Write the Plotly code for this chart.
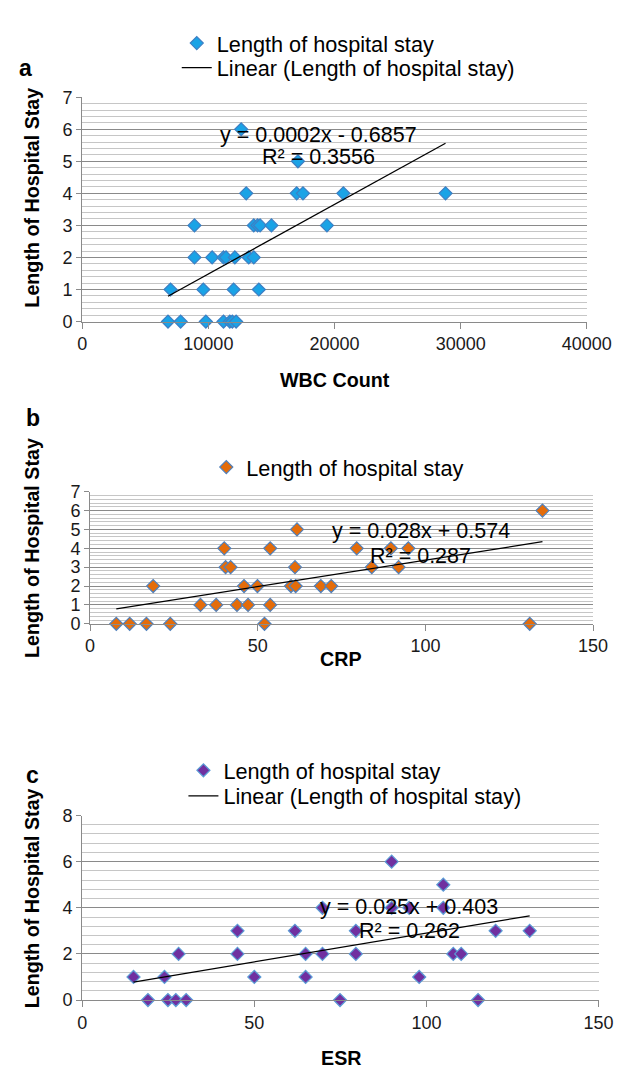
import plotly.graph_objects as go

W, H = 626, 1072
FONT = "Liberation Sans, Arial, sans-serif"

# ---------------- data ----------------
# Panel a: WBC count vs length of hospital stay
wbc_x = [6800, 7800, 9800, 11200, 11700, 11900, 12200,
         7000, 9600, 12000, 14000,
         8900, 10300, 11200, 11400, 12100, 13200, 13600,
         8900, 13600, 13900, 14100, 15000, 19400,
         13000, 17000, 17500, 20700, 28800,
         17100,
         12600]
wbc_y = [0, 0, 0, 0, 0, 0, 0,
         1, 1, 1, 1,
         2, 2, 2, 2, 2, 2, 2,
         3, 3, 3, 3, 3, 3,
         4, 4, 4, 4, 4,
         5,
         6]
wbc_trend = {"slope": 0.000217, "intercept": -0.6857}
wbc_eq = ["y = 0.0002x - 0.6857", "R² = 0.3556"]
wbc_xticks = [0, 10000, 20000, 30000, 40000]
wbc_yticks = [0, 1, 2, 3, 4, 5, 6, 7]

# Panel b: CRP vs length of hospital stay
crp_x = [7.8, 11.8, 16.8, 23.9, 52.0, 131.1,
         32.9, 37.6, 43.8, 47.1, 53.7,
         18.8, 45.9, 49.9, 59.9, 61.3, 68.8, 71.9,
         40.4, 41.9, 61.1, 84.0, 92.0,
         40.0, 53.7, 79.5, 89.7, 94.9,
         61.7,
         134.9]
crp_y = [0, 0, 0, 0, 0, 0,
         1, 1, 1, 1, 1,
         2, 2, 2, 2, 2, 2, 2,
         3, 3, 3, 3, 3,
         4, 4, 4, 4, 4,
         5,
         6]
crp_trend = {"slope": 0.028, "intercept": 0.574}
crp_eq = ["y = 0.028x + 0.574", "R² = 0.287"]
crp_xticks = [0, 50, 100, 150]
crp_yticks = [0, 1, 2, 3, 4, 5, 6, 7]

# Panel c: ESR vs length of hospital stay
esr_x = [19.1, 24.9, 27.2, 30.2, 74.9, 115.0,
         14.9, 23.9, 50.0, 64.9, 97.9,
         28.0, 45.1, 64.9, 69.8, 79.5, 107.8, 110.1,
         45.1, 61.8, 79.5, 120.1, 130.0,
         69.8, 89.9, 95.0, 104.9,
         104.9,
         89.9]
esr_y = [0, 0, 0, 0, 0, 0,
         1, 1, 1, 1, 1,
         2, 2, 2, 2, 2, 2, 2,
         3, 3, 3, 3, 3,
         4, 4, 4, 4,
         5,
         6]
esr_trend = {"slope": 0.025, "intercept": 0.403}
esr_eq = ["y = 0.025x + 0.403", "R² = 0.262"]
esr_xticks = [0, 50, 100, 150]
esr_yticks = [0, 2, 4, 6, 8]

series_name = "Length of hospital stay"
trend_name = "Linear (Length of hospital stay)"
y_title = "Length of Hospital Stay"

# ---------------- helpers ----------------
def fx(px):
    return px / W

def fy(py):
    return 1 - py / H

def trend_xy(xs, t):
    x0, x1 = min(xs), max(xs)
    return [x0, x1], [t["slope"] * x0 + t["intercept"], t["slope"] * x1 + t["intercept"]]

fig = go.Figure()

panels = [
    dict(ax="", x=wbc_x, y=wbc_y, t=wbc_trend, fill="#1aa3e6", edge="#3d7fc4",
         leg_pts="legend", leg_line="legend2"),
    dict(ax="2", x=crp_x, y=crp_y, t=crp_trend, fill="#e46c0a", edge="#4f81bd",
         leg_pts="legend3", leg_line=None),
    dict(ax="3", x=esr_x, y=esr_y, t=esr_trend, fill="#7030a0", edge="#5b9bd5",
         leg_pts="legend4", leg_line="legend5"),
]

for p in panels:
    xa, ya = "x" + p["ax"], "y" + p["ax"]
    fig.add_trace(go.Scatter(
        x=p["x"], y=p["y"], mode="markers", name=series_name,
        xaxis=xa, yaxis=ya, legend=p["leg_pts"],
        marker=dict(symbol="diamond", size=10, color=p["fill"],
                    line=dict(color=p["edge"], width=1.2)),
        cliponaxis=False,
    ))
    tx, ty = trend_xy(p["x"], p["t"])
    fig.add_trace(go.Scatter(
        x=tx, y=ty, mode="lines", name=trend_name,
        xaxis=xa, yaxis=ya,
        legend=p["leg_line"] if p["leg_line"] else "legend",
        showlegend=p["leg_line"] is not None,
        line=dict(color="black", width=1.3),
    ))

MAJOR = "#8a8a8a"
MINOR = "#c6c6c6"
tickfont = dict(family=FONT, size=18, color="#1a1a1a")

def xaxis(dom, rng, ticks, anchor):
    return dict(domain=dom, range=rng, tickvals=ticks, ticktext=[str(t) for t in ticks],
                showgrid=False, zeroline=False, showline=True, linecolor=MAJOR, linewidth=1,
                ticks="outside", ticklen=6, tickcolor=MAJOR, tickfont=tickfont,
                anchor=anchor, fixedrange=True)

def yaxis(dom, rng, ticks, minor_dt, anchor):
    return dict(domain=dom, range=rng, tickvals=ticks, ticktext=[str(t) for t in ticks],
                showgrid=True, gridcolor=MAJOR, gridwidth=1, zeroline=False,
                showline=True, linecolor=MAJOR, linewidth=1,
                ticks="outside", ticklen=5, tickcolor=MAJOR, tickfont=tickfont,
                minor=dict(dtick=minor_dt, tick0=0, showgrid=True, gridcolor=MINOR,
                           gridwidth=1, ticks=""),
                anchor=anchor, fixedrange=True)

LEG = 21.7

def legend_at(text_left, cy, size=LEG):
    return dict(x=fx(text_left - 40), y=fy(cy), xanchor="left", yanchor="middle",
                font=dict(family=FONT, size=size, color="black"),
                bgcolor="rgba(0,0,0,0)", borderwidth=0, itemwidth=30)

fig.update_layout(
    width=W, height=H, margin=dict(l=0, r=0, t=0, b=0),
    paper_bgcolor="white", plot_bgcolor="white",
    font=dict(family=FONT, color="black"),
    xaxis=xaxis([fx(72.7), fx(602.7)], [0, 40000], wbc_xticks, "y"),
    yaxis=yaxis([fy(309.3), fy(80.7)], [0, 7], wbc_yticks, 0.2, "x"),
    xaxis2=xaxis([fx(81), fx(609.3)], [0, 150], crp_xticks, "y2"),
    yaxis2=yaxis([fy(617.3), fy(482.7)], [0, 7], crp_yticks, 0.2, "x2"),
    xaxis3=xaxis([fx(72.7), fx(615)], [0, 150], esr_xticks, "y3"),
    yaxis3=yaxis([fy(1000.7), fy(812.7)], [0, 8], esr_yticks, 0.4, "x3"),
    legend=legend_at(212, 26),
    legend2=legend_at(212, 51),
    legend3=legend_at(243, 458),
    legend4=legend_at(219, 767),
    legend5=legend_at(219, 793),
    showlegend=True,
)

ann = []
def text(px, py, s, size, bold=False, angle=0):
    ann.append(dict(x=fx(px), y=fy(py), xref="paper", yref="paper", text=(f"<b>{s}</b>" if bold else s),
                    showarrow=False, xanchor="center", yanchor="middle", textangle=angle,
                    font=dict(family=FONT, size=size, color="black")))

# trendline equations
text(321, 119, wbc_eq[0], 21.5)
text(321, 142, wbc_eq[1], 21.5)
text(429, 523, crp_eq[0], 21.5)
text(428, 548, crp_eq[1], 21.5)
text(416, 906, esr_eq[0], 21.5)
text(416, 930, esr_eq[1], 21.5)

# axis titles
text(20, 183, y_title, 19.7, bold=True, angle=-90)
text(338, 369, "WBC Count", 19.7, bold=True)
text(20, 540, y_title, 19.7, bold=True, angle=-90)
text(345, 653, "CRP", 19.7, bold=True)
text(20, 897, y_title, 19.7, bold=True, angle=-90)
text(344, 1060, "ESR", 19.7, bold=True)

# panel letters
text(13, 51, "a", 23, bold=True)
text(21, 408, "b", 23, bold=True)
text(21, 771, "c", 23, bold=True)

fig.update_layout(annotations=ann)
fig.write_html("out.html")
